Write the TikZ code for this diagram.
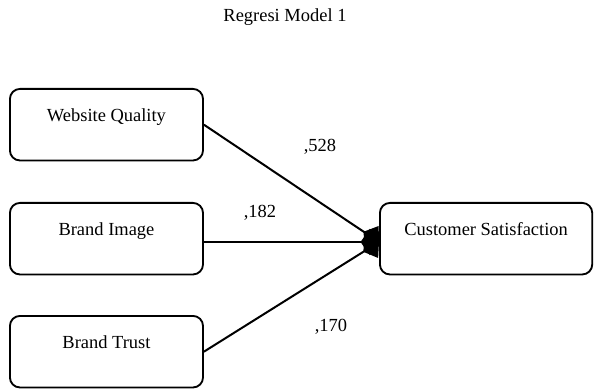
\documentclass[tikz,border=0pt]{standalone}
\usepackage{fontspec}
\setmainfont{Liberation Serif}
\usetikzlibrary{arrows.meta}
\tikzstyle{every node}=[font=\fontsize{12}{14}\selectfont]
\tikzstyle{box}=[draw,line width=1.2pt,rounded corners=6.5pt,anchor=north west,inner ysep=0pt,text height=21pt,text depth=25.5pt]
\tikzstyle{path}=[line width=1.3pt,-{Diamond[length=12pt,width=17pt]}]

\begin{document}
\begin{tikzpicture}[x=0.65pt,y=-0.65pt]
\useasboundingbox (0,0) rectangle (595,389);
\node (title) at (285,17) {Regresi Model 1};
\node[box,minimum width=125.5pt] (wq) at (9,88)  {Website Quality};
\node[box,minimum width=125.5pt] (bi) at (9,202) {Brand Image};
\node[box,minimum width=125.5pt] (bt) at (9,315) {Brand Trust};
\node[box,minimum width=138pt]   (cs) at (379,202) {Customer Satisfaction};
\coordinate (tip) at (379,242);
\path[path]	(wq.east) 	edge 	(tip)
		(bi.east |- tip)	edge 	(tip)
		(bt.east)	edge	(tip);
\node (w1) at (320,147) {,528};
\node (w2) at (260,213) {,182};
\node (w3) at (331,327) {,170};
\end{tikzpicture}
\end{document}
